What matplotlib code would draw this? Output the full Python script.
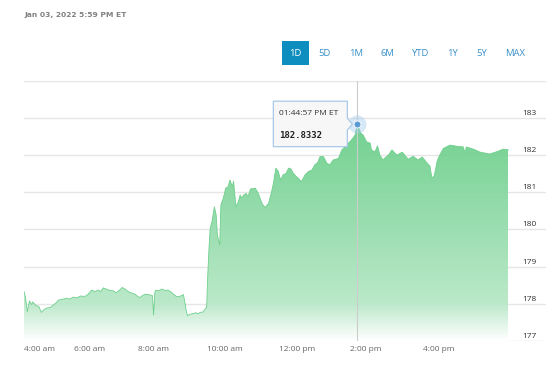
import numpy as np
import matplotlib
matplotlib.use("Agg")
import matplotlib.pyplot as plt
from matplotlib.patches import Polygon, Rectangle
from matplotlib.transforms import IdentityTransform, blended_transform_factory

# ---------------- data ----------------
times = ["04:00", "04:03", "04:06", "04:10", "04:14", "04:16", "04:22", "04:27", "04:32", "04:37",
         "04:42", "04:48", "04:54", "04:59", "05:03", "05:10", "05:18", "05:24", "05:30", "05:37",
         "05:43", "05:52", "05:57", "06:04", "06:10", "06:17", "06:21", "06:26", "06:31", "06:36",
         "06:45", "06:50", "06:56", "07:02", "07:07", "07:13", "07:18", "07:26", "07:31", "07:35",
         "07:40", "07:45", "07:54", "07:59", "08:01", "08:03", "08:05", "08:09", "08:15", "08:20",
         "08:25", "08:31", "08:35", "08:40", "08:44", "08:48", "08:51", "08:54", "08:56", "08:58",
         "09:02", "09:08", "09:12", "09:16", "09:19", "09:24", "09:27", "09:30", "09:32", "09:34",
         "09:36", "09:39", "09:43", "09:46", "09:48", "09:52", "09:54", "09:58", "10:02", "10:06",
         "10:09", "10:13", "10:15", "10:19", "10:23", "10:26", "10:28", "10:32", "10:36", "10:39",
         "10:43", "10:51", "10:56", "11:02", "11:07", "11:13", "11:18", "11:21", "11:25", "11:29",
         "11:33", "11:37", "11:42", "11:46", "11:50", "11:54", "11:59", "12:02", "12:08", "12:14",
         "12:20", "12:26", "12:31", "12:36", "12:40", "12:46", "12:52", "12:57", "13:03", "13:12",
         "13:18", "13:26", "13:35", "13:41", "13:44:57", "13:51", "13:55", "14:01", "14:07", "14:09",
         "14:15", "14:19", "14:23", "14:28", "14:31", "14:37", "14:43", "14:51", "15:00", "15:10",
         "15:18", "15:26", "15:33", "15:41", "15:46", "15:49", "15:53", "15:58", "16:02", "16:08",
         "16:19", "16:30", "16:41", "16:44", "16:46", "16:58", "17:09", "17:25", "17:36", "17:47",
         "17:56"]
prices = [178.33, 178.15, 177.79, 178.08, 177.98, 178.05, 177.95, 177.93, 177.77, 177.85,
          177.89, 177.90, 177.97, 178.03, 178.10, 178.12, 178.15, 178.13, 178.18, 178.16,
          178.21, 178.20, 178.25, 178.37, 178.33, 178.37, 178.33, 178.43, 178.40, 178.37,
          178.35, 178.30, 178.36, 178.44, 178.40, 178.33, 178.30, 178.26, 178.20, 178.17,
          178.22, 178.26, 178.24, 178.22, 177.70, 178.30, 178.37, 178.35, 178.40, 178.36,
          178.37, 178.31, 178.25, 178.19, 178.20, 178.22, 178.25, 178.00, 177.79, 177.68,
          177.72, 177.74, 177.76, 177.73, 177.77, 177.78, 177.85, 177.90, 178.80, 179.50,
          180.03, 180.21, 180.61, 180.39, 179.85, 179.58, 180.66, 180.84, 181.11, 181.15,
          181.33, 181.15, 181.30, 180.61, 180.75, 180.93, 180.84, 180.93, 180.97, 180.88,
          181.09, 181.11, 180.97, 180.70, 180.59, 180.70, 181.02, 181.24, 181.65, 181.56,
          181.33, 181.47, 181.51, 181.65, 181.63, 181.51, 181.42, 181.38, 181.29, 181.47,
          181.56, 181.60, 181.74, 181.80, 181.96, 181.96, 181.78, 181.74, 181.87, 181.91,
          182.14, 182.27, 182.41, 182.54, 182.8332, 182.59, 182.54, 182.36, 182.32, 182.14,
          182.09, 182.25, 182.00, 181.87, 181.92, 182.00, 182.14, 182.00, 182.08, 181.89,
          181.97, 181.87, 181.95, 181.79, 181.70, 181.38, 181.45, 181.85, 182.00, 182.18,
          182.27, 182.24, 182.22, 182.05, 182.22, 182.16, 182.08, 182.03, 182.09, 182.16,
          182.14]

x_tick_times = ["04:00", "06:00", "08:00", "10:00", "12:00", "14:00", "16:00"]
x_tick_labels = ["4:00 am", "6:00 am", "8:00 am", "10:00 am", "12:00 pm", "2:00 pm", "4:00 pm"]
y_ticks = [177, 178, 179, 180, 181, 182, 183, 184]
y_labels = ["177", "178", "179", "180", "181", "182", "183"]
ranges = ["1D", "5D", "1M", "6M", "YTD", "1Y", "5Y", "MAX"]
header = "Jan 03, 2022 5:59 PM ET"
hover_time = "13:44:57"
hover_label = "01:44:57 PM ET"
hover_value = 182.8332


def to_min(s):
    parts = [int(q) for q in s.split(":")]
    h, mm = parts[0], parts[1]
    sec = parts[2] if len(parts) > 2 else 0
    return h * 60 + mm + sec / 60.0 - 240.0


m = np.array([to_min(t) for t in times])
p = np.array(prices)
tick_m = np.array([to_min(t) for t in x_tick_times])

# ordinal-like time axis (session spacing is not uniform)
K_M = np.array([-1200.0, 0, 120, 240, 360, 480, 600, 720, 2000])
K_P = np.array([-1200 * 32.75 / 60, 0, 65.5, 129, 200.5, 273, 342, 414.5, 414.5 + 1280 * 36.25 / 60])


def fwd(x):
    return np.interp(x, K_M, K_P)


def inv(x):
    return np.interp(x, K_P, K_M)


W, H = 560, 369
fig = plt.figure(figsize=(W / 100, H / 100), dpi=100)
fig.patch.set_facecolor("white")

L, R, T, B = 24, 546, 80.8, 341
ax = fig.add_axes([L / W, 1 - B / H, (R - L) / W, (B - T) / H])
ax.set_xscale("function", functions=(fwd, inv))
xmax = float(inv(R - L))

# gradient area
base = np.array([0.42, 0.81, 0.545])
top = p.max()
vals = np.linspace(177, top, 256)
alpha = np.interp(vals, [177, 178, top], [0.0, 0.48, 1.0])
rgba = np.ones((256, 2, 4))
for c in range(3):
    rgba[:, :, c] = (1 - alpha[:, None]) + alpha[:, None] * base[c]
rgba[:, :, 3] = 0.96
verts = np.vstack([[m[0], 177.0], np.column_stack([m, p]), [m[-1], 177.0]])
area = Polygon(verts, closed=True, facecolor="none", edgecolor="none", transform=ax.transData)
ax.add_patch(area)
img = ax.imshow(rgba, extent=[m[0], m[-1], 177, top], origin="lower",
                aspect="auto", interpolation="bilinear", zorder=2)
img.set_clip_path(area)
ax.plot(m, p, color="#6fcf8c", lw=0.6, zorder=3)

ax.set_xlim(0, xmax)
ax.set_ylim(177, 184)

ax.set_yticks(y_ticks)
ax.yaxis.grid(True, color="#e6e6e6", lw=1.0)
ax.set_axisbelow(True)
ax.tick_params(axis="y", length=0, labelleft=False)
for s in ax.spines.values():
    s.set_visible(False)

ax.set_xticks(tick_m)
ax.set_xticklabels(x_tick_labels, fontsize=6, color="#666666", family="Open Sans")
ax.tick_params(axis="x", length=0, pad=3.5)
ax.get_xticklabels()[0].set_horizontalalignment("left")

btr = blended_transform_factory(ax.transAxes, ax.transData)
for v, lab in zip(y_ticks, y_labels):
    ax.text((537 - L) / (R - L), v + 0.03, lab, transform=btr, ha="right", va="bottom",
            fontsize=6, color="#333333", family="Open Sans")

# crosshair + hover marker
hm = to_min(hover_time)
ax.axvline(hm, color="#cccccc", lw=0.8, zorder=4)
ax.plot([hm], [hover_value], "o", ms=13, color="#a8cdee", alpha=0.45, mec="none", zorder=5)
ax.plot([hm], [hover_value], "o", ms=5, color="#5b9bd5", mec="white", mew=0.6, zorder=6)

# tooltip (display coords)
fig.canvas.draw()
px, py = ax.transData.transform((hm, hover_value))
bl, br = px - 84, px - 10
btop, bbot = py + 23, py - 22.5
tverts = [(bl, bbot), (br, bbot), (br, py - 6), (px - 5, py), (br, py + 6), (br, btop), (bl, btop)]
tip = Polygon(tverts, closed=True, transform=IdentityTransform(), facecolor="#f7f7f7",
              edgecolor="#a9c9e8", lw=0.9, zorder=10)
fig.add_artist(tip)
fig.text(bl + 6, py + 11, hover_label, transform=IdentityTransform(), fontsize=6,
         color="#333333", va="center", ha="left", family="Open Sans", zorder=11)
fig.text(bl + 6, py - 11, f"{hover_value:.4f}", transform=IdentityTransform(), fontsize=6.5,
         color="#222222", va="center", ha="left", family="DejaVu Sans Mono",
         weight="bold", zorder=11)

# header
fig.text(24 / W, 1 - 14.7 / H, header, fontsize=5.4, color="#808080", weight="bold",
         va="center", ha="left", family="DejaVu Sans")

# range selector
btn_x = [295.3, 325, 356, 387, 420, 452.7, 481.7, 515]
btn_y = 53.3
fig.add_artist(Rectangle((282 / W, 1 - 65 / H), 26.7 / W, 24.3 / H,
                         transform=fig.transFigure, facecolor="#0e8ebe", edgecolor="none"))
for i, (lab, bx) in enumerate(zip(ranges, btn_x)):
    fig.text(bx / W, 1 - btn_y / H, lab, fontsize=6.8, ha="center", va="center",
             color="white" if i == 0 else "#3a90c8", family="Open Sans")

fig.savefig("out.png", dpi=100, facecolor="white")
